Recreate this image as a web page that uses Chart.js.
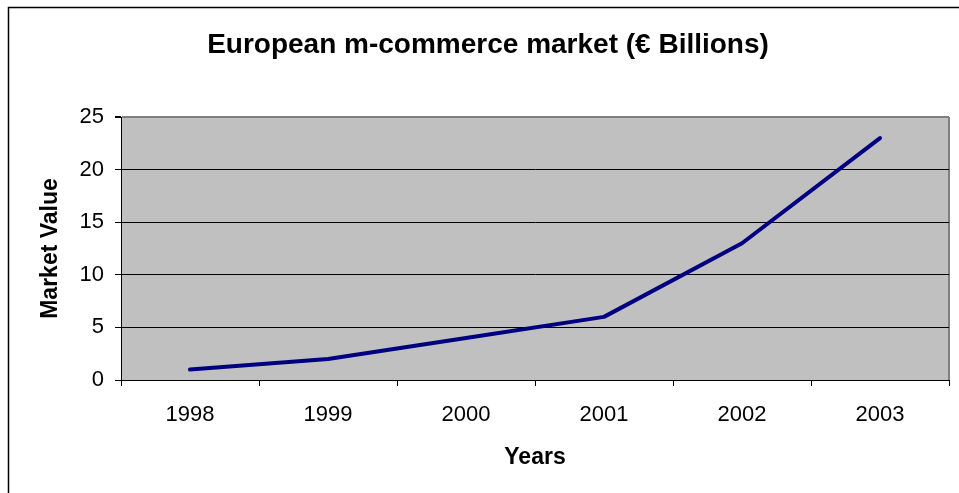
<!DOCTYPE html>
<html>
<head>
<meta charset="utf-8">
<script src="https://cdn.jsdelivr.net/npm/chart.js@4"></script>
<style>
  html, body { margin: 0; padding: 0; background: #fff; }
  #wrap { width: 959px; height: 493px; }
</style>
</head>
<body>
<div id="wrap"><canvas id="c" width="959" height="493"></canvas></div>
<script>
// European m-commerce market, € billions per year
const years = ['1998', '1999', '2000', '2001', '2002', '2003'];
const marketValue = [1, 2, 4, 6, 13, 23];
const yTicks = [0, 5, 10, 15, 20, 25];

const FONT = "'Liberation Sans', Arial, sans-serif";

// Page frame, grey plot background and the plot's right edge
const frame = {
  id: 'frame',
  beforeDraw(chart) {
    const { ctx, chartArea: a } = chart;
    ctx.save();
    ctx.fillStyle = '#ffffff';
    ctx.fillRect(0, 0, chart.width, chart.height);
    ctx.strokeStyle = '#000000';
    ctx.lineWidth = 1.5;
    ctx.beginPath();
    ctx.moveTo(8.5, chart.height);
    ctx.lineTo(8.5, 7.5);
    ctx.lineTo(chart.width, 7.5);
    ctx.stroke();
    ctx.fillStyle = '#c0c0c0';
    ctx.fillRect(a.left, a.top, a.right - a.left, a.bottom - a.top);
    ctx.strokeStyle = '#808080';
    ctx.lineWidth = 2;
    ctx.beginPath();
    ctx.moveTo(a.right, a.top);
    ctx.lineTo(a.right, a.bottom);
    ctx.stroke();
    ctx.restore();
  }
};

new Chart(document.getElementById('c'), {
  type: 'line',
  data: {
    labels: years,
    datasets: [{
      data: marketValue,
      borderColor: '#000080',
      borderWidth: 4,
      borderCapStyle: 'round',
      borderJoinStyle: 'round',
      pointRadius: 0,
      tension: 0,
      fill: false
    }]
  },
  options: {
    responsive: false,
    animation: false,
    layout: { padding: { left: 27, right: 10, top: 0, bottom: 0 } },
    plugins: {
      legend: { display: false },
      tooltip: { enabled: false },
      title: {
        display: true,
        text: 'European m-commerce market (€ Billions)',
        color: '#000',
        font: { family: FONT, size: 28, weight: 'bold' },
        padding: { top: 28, bottom: 55.4 }
      }
    },
    scales: {
      x: {
        type: 'category',
        offset: true,
        afterFit(scale) { scale.height = 113; },
        grid: {
          offset: true,
          drawOnChartArea: false,
          drawTicks: true,
          tickLength: 6,
          tickColor: '#000'
        },
        border: { display: true, color: '#000', width: 1 },
        ticks: {
          color: '#000',
          font: { family: FONT, size: 22 },
          padding: 16,
          maxRotation: 0
        },
        title: {
          display: true,
          text: 'Years',
          color: '#000',
          font: { family: FONT, size: 23, weight: 'bold' },
          padding: { top: 0, bottom: 22 }
        }
      },
      y: {
        min: 0,
        max: 25,
        afterFit(scale) { scale.width = 94; },
        afterBuildTicks(scale) { scale.ticks = yTicks.map(v => ({ value: v })); },
        grid: {
          color: ctx => (ctx.tick && ctx.tick.value === 25 ? '#808080' : '#000'),
          lineWidth: ctx => (ctx.tick && ctx.tick.value === 25 ? 2 : 1),
          tickLength: 6,
          tickColor: '#000'
        },
        border: { display: true, color: '#000', width: 1 },
        ticks: {
          color: '#000',
          font: { family: FONT, size: 22 },
          padding: 11
        },
        title: {
          display: true,
          text: 'Market Value',
          color: '#000',
          font: { family: FONT, size: 23, weight: 'bold' },
          padding: { top: 10, bottom: 0 }
        }
      }
    }
  },
  plugins: [frame]
});
</script>
</body>
</html>
